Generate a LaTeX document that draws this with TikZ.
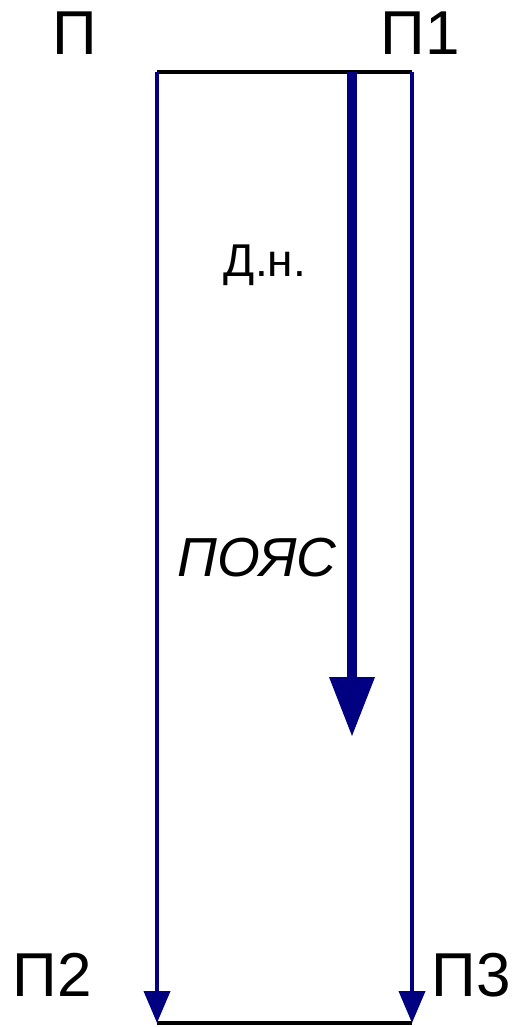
\documentclass[tikz,border=0pt]{standalone}
\usepackage{fontspec}
\setmainfont{Liberation Sans}
\usetikzlibrary{arrows.meta,positioning}
\definecolor{flow}{HTML}{000080}

\begin{document}
\begin{tikzpicture}[x=1pt,y=-1pt,
    edge/.style={black,line width=4pt},
    side/.style={flow,line width=4pt,-{Triangle[length=32pt,width=26pt]}},
    main/.style={flow,line width=10pt,-{Triangle[length=60pt,width=43pt]}},
    lbl/.style={font=\fontsize{62}{66}\selectfont,inner sep=0pt}]
  \useasboundingbox (0,0) rectangle (512,1027);

  % corner points of the belt
  \coordinate (tl) at (157,72);
  \coordinate (tr) at (412,72);
  \coordinate (bl) at (157,1023);
  \coordinate (br) at (412,1023);
  \coordinate (ms) at (352,72);
  \coordinate (me) at (352,737);

  % top and bottom edges
  \draw[edge] (tl) -- (tr);
  \draw[edge] (bl) -- (br);

  % side lines
  \draw[side] (tl) -- (bl);
  \draw[side] (tr) -- (br);

  % main flow
  \draw[main] (ms) -- (me);

  % labels
  \node[lbl] (p) at (75,33) {П};
  \node[lbl] (p1) at (420,33) {П1};
  \node[lbl] (p2) at (52,975) {П2};
  \node[lbl] (p3) at (471,975) {П3};
  \node[font=\fontsize{46}{50}\selectfont,inner sep=0pt] (dn) at (265,265) {Д.н.};
  \node[font=\fontsize{55}{58}\selectfont\itshape,inner sep=0pt] (belt) at (257,558) {ПОЯС};
\end{tikzpicture}
\end{document}
